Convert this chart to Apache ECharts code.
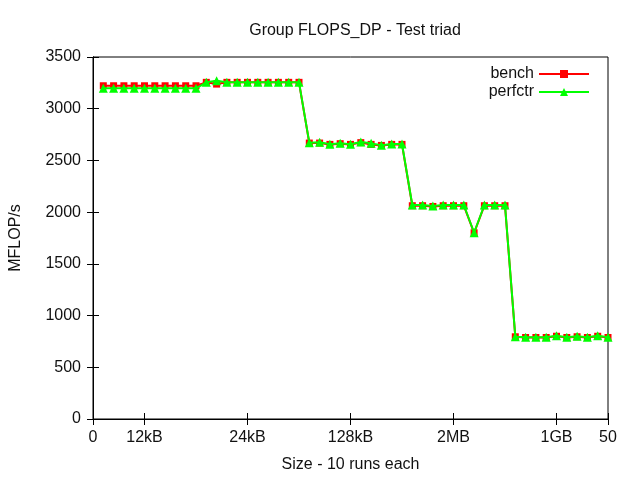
<!DOCTYPE html>
<html>
<head>
<meta charset="utf-8">
<script src="https://cdn.jsdelivr.net/npm/echarts@6/dist/echarts.min.js"></script>
<style>html,body{margin:0;padding:0;background:#fff}#c{width:640px;height:480px}</style>
</head>
<body>
<div id="c"></div>
<script>
const xValues = [1,2,3,4,5,6,7,8,9,10,11,12,13,14,15,16,17,18,19,20,21,22,23,24,25,26,27,28,29,30,31,32,33,34,35,36,37,38,39,40,41,42,43,44,45,46,47,48,49,50];
const bench = [3222,3222,3222,3222,3222,3222,3222,3222,3222,3222,
               3255,3238,3255,3255,3255,3255,3255,3255,3255,3255,
               2668,2668,2655,2662,2655,2672,2655,2645,2655,2655,
               2062,2062,2055,2062,2062,2062,1800,2062,2062,2062,
               795,788,788,788,800,788,795,788,800,788];
const perfctr = [3197,3197,3197,3197,3197,3197,3197,3197,3197,3197,
                 3255,3270,3255,3255,3255,3255,3255,3255,3255,3255,
                 2672,2675,2656,2665,2656,2678,2665,2646,2659,2659,
                 2069,2069,2059,2069,2069,2069,1801,2069,2069,2069,
                 796,790,790,790,805,790,800,790,805,790];
const xTickValues = [0,5,15,25,35,45,50];
const xTickLabels = ['0','12kB','24kB','128kB','2MB','1GB','50'];

const FONT = 'Liberation Sans';
const FS = 16;
const TXT = '#111';
const chart = echarts.init(document.getElementById('c'), null, {renderer:'canvas'});
const toPairs = arr => arr.map((v,i)=>[xValues[i], v]);
const labelMap = {};
xTickValues.forEach((v,i)=>{labelMap[v]=xTickLabels[i];});

chart.setOption({
  animation:false,
  backgroundColor:'#fff',
  textStyle:{fontFamily:FONT},
  title:{text:'Group FLOPS_DP - Test triad',left:350,textAlign:'center',top:18,
    textStyle:{fontFamily:FONT,fontSize:FS,fontWeight:'normal',color:TXT}},
  legend:{
    orient:'vertical', right:45, top:61, align:'right', itemGap:2,
    itemWidth:50, itemHeight:10,
    textStyle:{fontFamily:FONT,fontSize:FS,color:TXT},
    data:['bench','perfctr']
  },
  grid:{left:93,right:32,top:57,bottom:61,show:true,borderColor:'#000',borderWidth:1,backgroundColor:'transparent'},
  xAxis:[{
    type:'value',min:0,max:50,position:'bottom',
    name:'Size - 10 runs each',nameLocation:'middle',nameGap:38,
    nameTextStyle:{fontFamily:FONT,fontSize:FS,color:TXT},
    axisLine:{show:true,lineStyle:{color:'#000',width:1}},
    axisTick:{show:true,inside:true,length:6,customValues:xTickValues,lineStyle:{color:'#000'}},
    axisLabel:{show:true,customValues:xTickValues,formatter:v=>labelMap[v]!==undefined?labelMap[v]:'',
      fontFamily:FONT,fontSize:FS,color:TXT,margin:11,showMinLabel:true,showMaxLabel:true},
    splitLine:{show:false}
  },{
    type:'value',min:0,max:50,position:'top',
    axisLine:{show:true,lineStyle:{color:'#000',width:1}},
    axisTick:{show:true,inside:true,length:6,customValues:xTickValues,lineStyle:{color:'#000'}},
    axisLabel:{show:false},splitLine:{show:false}
  }],
  yAxis:[{
    type:'value',min:0,max:3500,interval:500,position:'left',
    name:'MFLOP/s',nameLocation:'middle',nameGap:69,nameRotate:90,
    nameTextStyle:{fontFamily:FONT,fontSize:FS,color:TXT},
    axisLine:{show:true,lineStyle:{color:'#000',width:1}},
    axisTick:{show:true,inside:true,length:6,lineStyle:{color:'#000'}},
    axisLabel:{fontFamily:FONT,fontSize:FS,color:TXT,margin:12,formatter:v=>String(v)},
    splitLine:{show:false}
  },{
    type:'value',min:0,max:3500,interval:500,position:'right',
    axisLine:{show:true,lineStyle:{color:'#000',width:1}},
    axisTick:{show:true,inside:true,length:6,lineStyle:{color:'#000'}},
    axisLabel:{show:false},splitLine:{show:false}
  }],
  series:[{
    name:'bench',type:'line',data:toPairs(bench),
    symbol:'rect',symbolSize:7,showAllSymbol:true,
    lineStyle:{color:'#ff0000',width:2},itemStyle:{color:'#ff0000',borderWidth:0},
    emphasis:{disabled:true},z:2
  },{
    name:'perfctr',type:'line',data:toPairs(perfctr),
    symbol:'triangle',symbolSize:9,showAllSymbol:true,
    lineStyle:{color:'#00ff00',width:2},itemStyle:{color:'#00ff00',borderWidth:0},
    emphasis:{disabled:true},z:3
  }]
});
</script>
</body>
</html>
